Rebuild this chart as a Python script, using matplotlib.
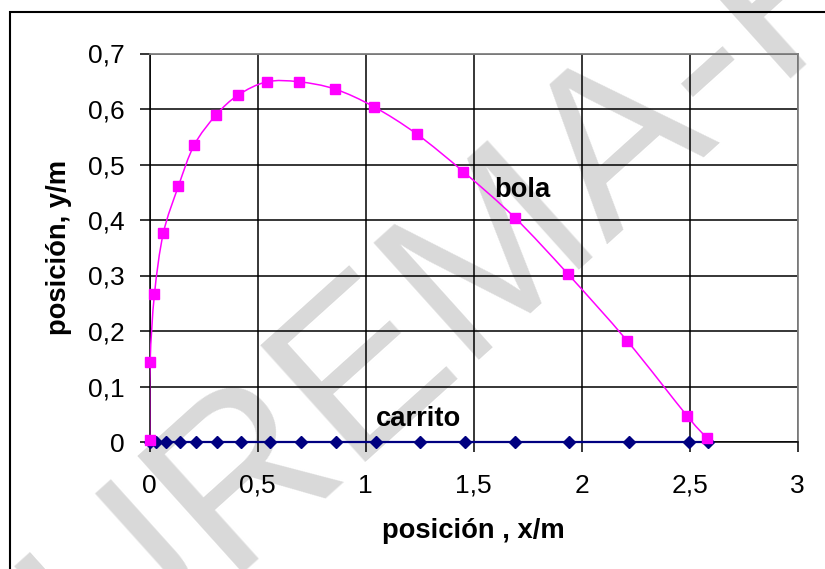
import matplotlib
matplotlib.use("Agg")
import matplotlib.pyplot as plt
from matplotlib.path import Path
from matplotlib.patches import PathPatch, Rectangle

plt.rcParams['font.family'] = ['Liberation Sans', 'DejaVu Sans']

# trayectoria de la bola (x, y) en metros
bola_x = [0.0, 0.002, 0.022, 0.063, 0.133, 0.206, 0.307, 0.409, 0.543, 0.691,
          0.857, 1.038, 1.236, 1.452, 1.691, 1.938, 2.211, 2.488, 2.58]
bola_y = [0.003, 0.144, 0.266, 0.376, 0.461, 0.535, 0.589, 0.625, 0.649, 0.649,
          0.636, 0.604, 0.555, 0.487, 0.404, 0.302, 0.182, 0.047, 0.007]

# posiciones del carrito sobre el suelo
carrito_x = [0.0, 0.031, 0.074, 0.142, 0.213, 0.312, 0.423, 0.555, 0.701, 0.863,
             1.046, 1.25, 1.46, 1.693, 1.942, 2.218, 2.499, 2.585]
carrito_y = [0.0] * len(carrito_x)

x_ticks = [0, 0.5, 1, 1.5, 2, 2.5, 3]
x_tick_labels = ["0", "0,5", "1", "1,5", "2", "2,5", "3"]
y_ticks = [0, 0.1, 0.2, 0.3, 0.4, 0.5, 0.6, 0.7]
y_tick_labels = ["0", "0,1", "0,2", "0,3", "0,4", "0,5", "0,6", "0,7"]


def smooth_path(xs, ys):
    """curva suave tipo hoja de calculo: Bezier cubica entre puntos consecutivos"""
    pts = list(zip(xs, ys))
    n = len(pts)
    verts = [pts[0]]
    codes = [Path.MOVETO]
    for i in range(n - 1):
        p0 = pts[i - 1] if i > 0 else pts[i]
        p1 = pts[i]
        p2 = pts[i + 1]
        p3 = pts[i + 2] if i + 2 < n else pts[i + 1]
        c1 = (p1[0] + (p2[0] - p0[0]) / 6, p1[1] + (p2[1] - p0[1]) / 6)
        c2 = (p2[0] - (p3[0] - p1[0]) / 6, p2[1] - (p3[1] - p1[1]) / 6)
        verts += [c1, c2, p2]
        codes += [Path.CURVE4] * 3
    return Path(verts, codes)


fig = plt.figure(figsize=(8.25, 5.69), dpi=100)

# marca de agua
fig.text(0.545, 0.49, "UREMA-F", fontsize=165, rotation=42, color='#d9d9d9',
         ha='center', va='center', rotation_mode='anchor', zorder=-1)

# marco exterior
fig.add_artist(Rectangle((10 / 825, -0.2), 1.2, 1 - 12 / 569 + 0.2,
                         transform=fig.transFigure, fill=False,
                         edgecolor='black', linewidth=1.5, clip_on=False))

ax = fig.add_axes([149.7 / 825, 127 / 569, 648 / 825, 388.5 / 569])
ax.set_facecolor('none')
ax.set_xlim(0, 3)
ax.set_ylim(0, 0.7)

ax.grid(True, color='black', linewidth=1.1)
ax.set_axisbelow(True)

for side in ['top', 'right']:
    ax.spines[side].set_color('#808080')
    ax.spines[side].set_linewidth(1.3)
for side in ['left', 'bottom']:
    ax.spines[side].set_color('black')
    ax.spines[side].set_linewidth(1.1)

ax.set_xticks(x_ticks)
ax.set_xticklabels(x_tick_labels)
ax.set_yticks(y_ticks)
ax.set_yticklabels(y_tick_labels)
ax.tick_params(axis='both', direction='out', length=7.2, width=1.1, labelsize=19)
ax.tick_params(axis='x', pad=15.5)
ax.tick_params(axis='y', pad=10.8)

# carrito
ax.plot(carrito_x, carrito_y, color='#000080', linewidth=1.6, marker='D',
        markersize=6.5, clip_on=False, zorder=3)

# bola: curva suave y marcadores
ax.add_patch(PathPatch(smooth_path(bola_x, bola_y), fill=False,
                       edgecolor='#ff00ff', linewidth=1.1, zorder=4))
ax.plot(bola_x, bola_y, linestyle='none', marker='s', markersize=7.2,
        color='#ff00ff', clip_on=False, zorder=5)

ax.text(1.724, 0.442, "bola", fontsize=19.7, fontweight='bold',
        ha='center', va='baseline', zorder=6)
ax.text(1.243, 0.029, "carrito", fontsize=19.7, fontweight='bold',
        ha='center', va='baseline', zorder=6)

ax.set_xlabel("posición , x/m", fontsize=19.7, fontweight='bold')
ax.set_ylabel("posición, y/m", fontsize=19.7, fontweight='bold')
ax.xaxis.set_label_coords(0.5, -0.196)
ax.yaxis.set_label_coords(-0.12, 0.5)

fig.savefig("out.png", dpi=100)
